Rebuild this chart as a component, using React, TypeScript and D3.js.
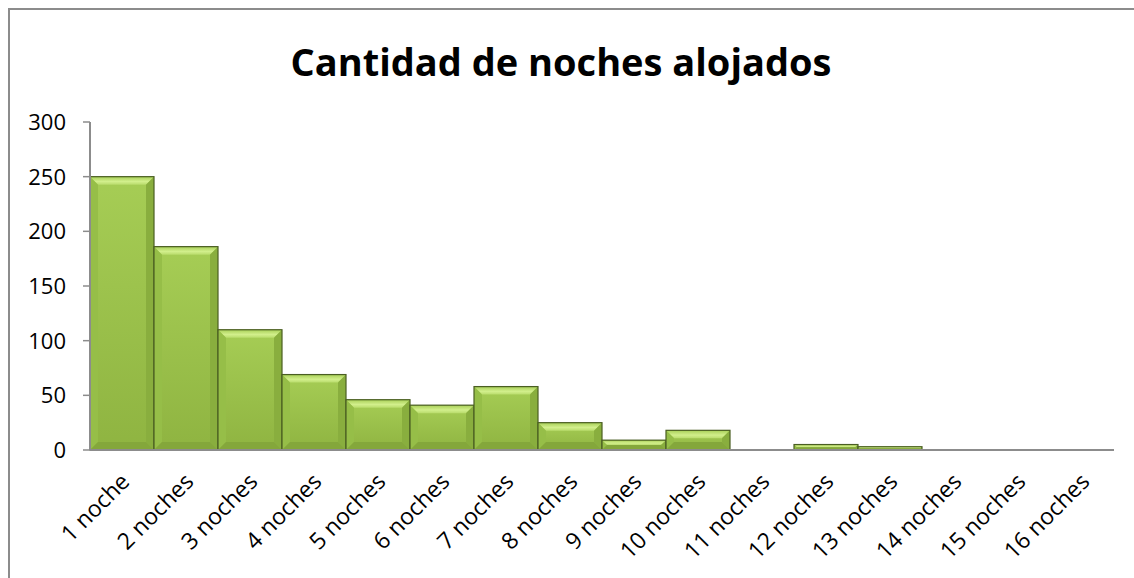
import React from 'react';
import * as d3 from 'd3';

const title = 'Cantidad de noches alojados';
const categories = [
  '1 noche', '2 noches', '3 noches', '4 noches', '5 noches', '6 noches', '7 noches', '8 noches',
  '9 noches', '10 noches', '11 noches', '12 noches', '13 noches', '14 noches', '15 noches', '16 noches',
];
const values = [250, 186, 110, 69, 46, 41, 58, 25, 9, 18, 0, 5, 3, 0, 0, 0];
const yTicks = [0, 50, 100, 150, 200, 250, 300];

const W = 1134;
const H = 578;
const left = 90;
const right = 1114;
const top = 122;
const bottom = 450;

export default function App() {
  const x = d3.scaleBand<string>().domain(categories).range([left, right]).padding(0);
  const y = d3.scaleLinear().domain([0, 300]).range([bottom, top]);

  const bars = categories.map((c, i) => {
    const v = values[i];
    if (!v) return null;
    const x0 = x(c)!;
    const w = x.bandwidth();
    const y0 = y(v);
    const h = bottom - y0;
    const b = Math.min(8, h / 2, w / 2);
    const x1 = x0 + w;
    const y1 = bottom;
    return (
      <g key={c}>
        <rect x={x0} y={y0} width={w} height={h} fill="url(#face)" />
        {/* top bevel */}
        <polygon points={`${x0},${y0} ${x1},${y0} ${x1 - b},${y0 + b} ${x0 + b},${y0 + b}`} fill="url(#topBevel)" />
        {/* left bevel */}
        <polygon points={`${x0},${y0} ${x0 + b},${y0 + b} ${x0 + b},${y1 - b} ${x0},${y1}`} fill="#96be48" />
        {/* right bevel */}
        <polygon points={`${x1},${y0} ${x1 - b},${y0 + b} ${x1 - b},${y1 - b} ${x1},${y1}`} fill="#89ae3e" />
        {/* bottom bevel */}
        <polygon points={`${x0},${y1} ${x0 + b},${y1 - b} ${x1 - b},${y1 - b} ${x1},${y1}`} fill="#84a73b" />
        <rect x={x0} y={y0} width={w} height={h} fill="none" stroke="#4a5e22" strokeWidth={1.2} />
      </g>
    );
  });

  return (
    <svg width={W} height={H} style={{ position: 'absolute', left: 0, top: 0 }}>
      <defs>
        <linearGradient id="face" x1="0" y1="0" x2="0" y2="1">
          <stop offset="0" stopColor="#a6cd55" />
          <stop offset="1" stopColor="#8fb441" />
        </linearGradient>
        <linearGradient id="topBevel" x1="0" y1="0" x2="0" y2="1">
          <stop offset="0" stopColor="#a8cf57" />
          <stop offset="0.6" stopColor="#d2ef8c" />
          <stop offset="1" stopColor="#b9dc6c" />
        </linearGradient>
      </defs>
      <rect x={0} y={0} width={W} height={H} fill="#fff" />
      <rect x={9} y={9} width={W + 20} height={H + 20} fill="none" stroke="#8c8c8c" strokeWidth={2} />
      <text x={561} y={76} textAnchor="middle" fontFamily="'Open Sans', sans-serif" fontWeight="bold" fontSize={38} fill="#000">
        {title}
      </text>
      {bars}
      {/* y axis */}
      <line x1={left} y1={top} x2={left} y2={bottom} stroke="#8c8c8c" strokeWidth={2} />
      {yTicks.map(t => (
        <g key={t}>
          <line x1={left - 7} y1={y(t)} x2={left} y2={y(t)} stroke="#8c8c8c" strokeWidth={1.5} />
          <text x={66} y={y(t)} dy="0.36em" textAnchor="end" fontFamily="'Open Sans', sans-serif" fontSize={22} fill="#000">
            {t}
          </text>
        </g>
      ))}
      {/* x axis */}
      <line x1={left} y1={bottom} x2={right} y2={bottom} stroke="#8c8c8c" strokeWidth={2} />
      {categories.map(c => {
        const cx = x(c)! + x.bandwidth() / 2 + 9;
        const cy = 483;
        return (
          <text key={c} transform={`translate(${cx},${cy}) rotate(-45)`} textAnchor="end" fontFamily="'Open Sans', sans-serif" fontSize={23} fill="#000">
            {c}
          </text>
        );
      })}
    </svg>
  );
}
